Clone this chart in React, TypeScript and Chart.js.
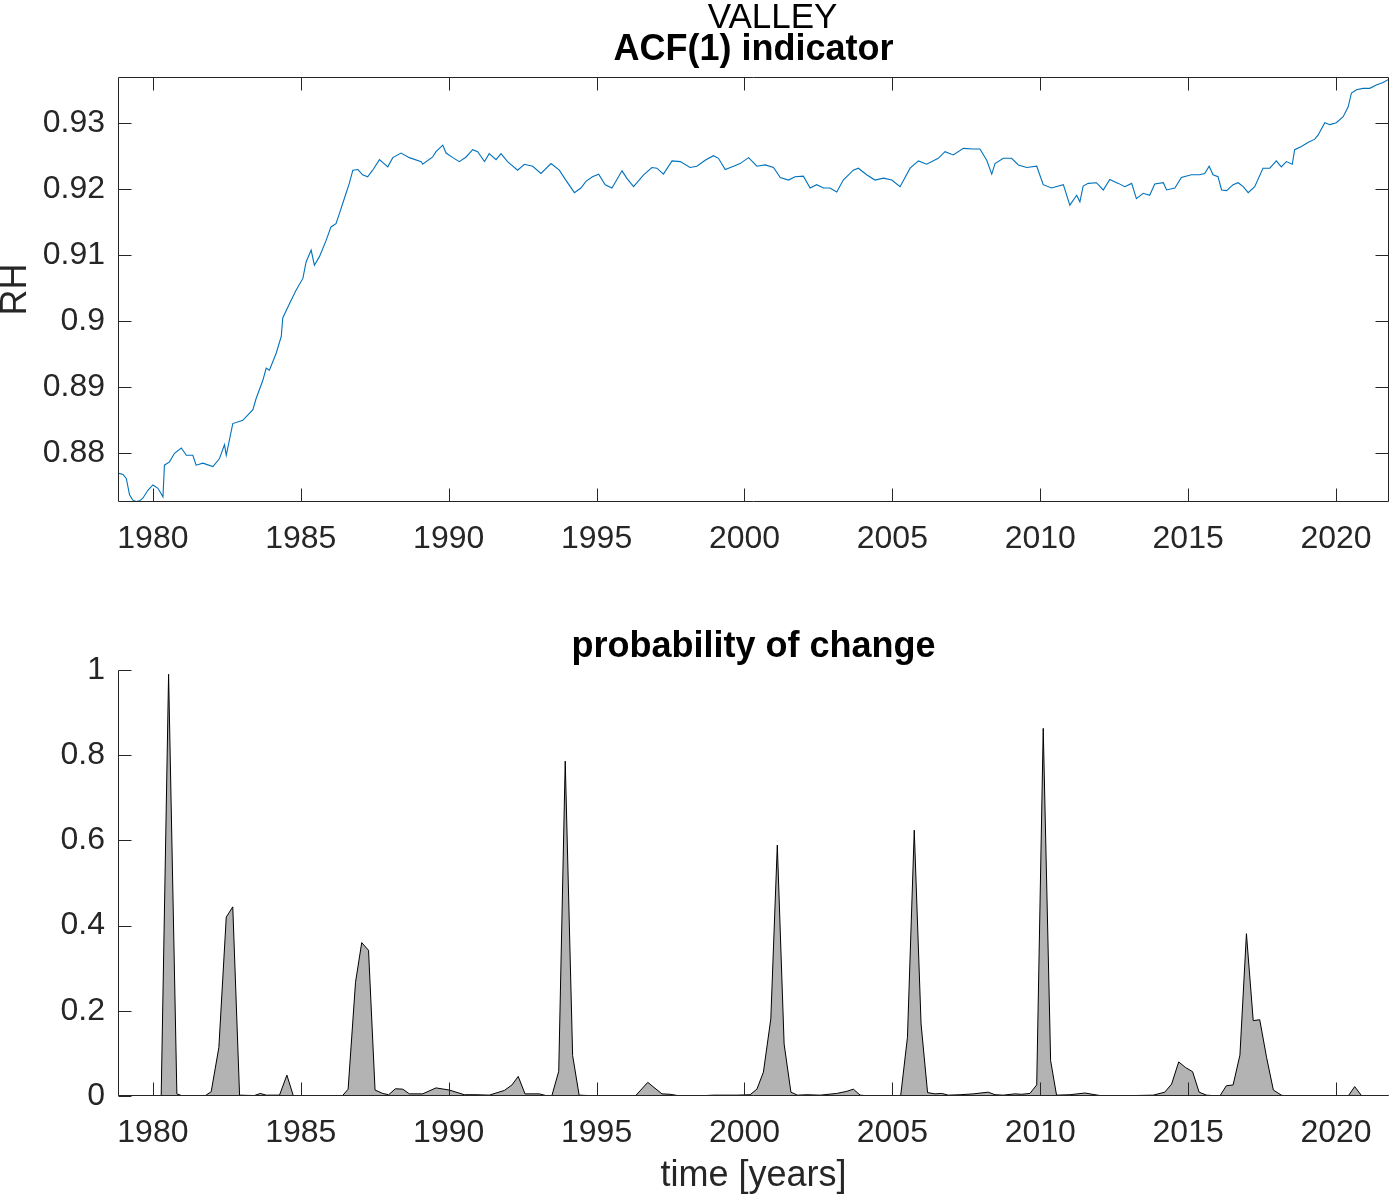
import React, { useEffect, useRef } from 'react';
import { Chart, registerables } from 'chart.js';

Chart.register(...registerables);

// ---------- text ----------
const FIGURE_TITLE = 'VALLEY';
const TOP_TITLE = 'ACF(1) indicator';
const BOTTOM_TITLE = 'probability of change';
const TOP_Y_LABEL = 'RH';
const BOTTOM_X_LABEL = 'time [years]';

// ---------- axes ----------
const X_MIN = 1978.82;
const X_MAX = 2021.79;
const X_TICKS = [1980, 1985, 1990, 1995, 2000, 2005, 2010, 2015, 2020];
const TOP_Y_MIN = 0.87262;
const TOP_Y_MAX = 0.93702;
const TOP_Y_TICKS = [0.88, 0.89, 0.9, 0.91, 0.92, 0.93];
const BOTTOM_Y_MIN = 0;
const BOTTOM_Y_MAX = 1;
const BOTTOM_Y_TICKS = [0, 0.2, 0.4, 0.6, 0.8, 1];

// ---------- data: ACF(1) indicator ----------
const acfYears = [
  1978.82, 1978.99, 1979.10, 1979.21, 1979.32, 1979.44, 1979.55, 1979.66, 1979.83, 1980.00,
  1980.17, 1980.34, 1980.39, 1980.56, 1980.73, 1980.96, 1981.13, 1981.35, 1981.46, 1981.69,
  1982.03, 1982.25, 1982.42, 1982.48, 1982.70, 1983.04, 1983.38, 1983.49, 1983.72, 1983.83,
  1983.94, 1984.17, 1984.34, 1984.39, 1984.62, 1984.84, 1985.07, 1985.18, 1985.35, 1985.46,
  1985.63, 1985.86, 1986.02, 1986.19, 1986.31, 1986.53, 1986.64, 1986.76, 1986.93, 1987.09,
  1987.26, 1987.43, 1987.66, 1987.94, 1988.11, 1988.39, 1988.67, 1989.07, 1989.12, 1989.46,
  1989.57, 1989.80, 1989.91, 1990.14, 1990.36, 1990.59, 1990.81, 1990.98, 1991.21, 1991.37,
  1991.60, 1991.77, 1991.99, 1992.33, 1992.56, 1992.84, 1993.12, 1993.46, 1993.74, 1993.96,
  1994.25, 1994.47, 1994.64, 1994.86, 1995.07, 1995.29, 1995.52, 1995.86, 1996.02, 1996.25,
  1996.59, 1996.87, 1997.04, 1997.26, 1997.55, 1997.83, 1998.16, 1998.39, 1998.67, 1998.95,
  1999.12, 1999.35, 1999.63, 1999.85, 2000.14, 2000.42, 2000.70, 2000.98, 2001.21, 2001.49,
  2001.71, 2001.99, 2002.22, 2002.44, 2002.67, 2002.89, 2003.12, 2003.34, 2003.68, 2003.85,
  2004.13, 2004.41, 2004.70, 2004.98, 2005.26, 2005.60, 2005.88, 2006.16, 2006.55, 2006.78,
  2007.06, 2007.40, 2007.74, 2007.96, 2008.19, 2008.36, 2008.47, 2008.75, 2009.03, 2009.26,
  2009.54, 2009.88, 2010.10, 2010.38, 2010.78, 2011.00, 2011.23, 2011.34, 2011.45, 2011.62,
  2011.90, 2012.13, 2012.35, 2012.64, 2012.86, 2013.09, 2013.25, 2013.48, 2013.70, 2013.87,
  2014.16, 2014.27, 2014.55, 2014.77, 2015.11, 2015.39, 2015.56, 2015.71, 2015.84, 2016.01,
  2016.13, 2016.30, 2016.52, 2016.69, 2016.86, 2017.03, 2017.25, 2017.53, 2017.76, 2017.98,
  2018.15, 2018.32, 2018.52, 2018.60, 2018.83, 2019.05, 2019.28, 2019.39, 2019.62, 2019.79,
  2020.01, 2020.24, 2020.41, 2020.52, 2020.69, 2020.91, 2021.14, 2021.36, 2021.59, 2021.79,
];
const acfValues = [
  0.8770, 0.8768, 0.8762, 0.8737, 0.8729, 0.8727, 0.8728, 0.8732, 0.8744, 0.8752,
  0.8747, 0.8734, 0.8782, 0.8787, 0.8800, 0.8808, 0.8797, 0.8797, 0.8782, 0.8785,
  0.8780, 0.8792, 0.8813, 0.8797, 0.8845, 0.8850, 0.8866, 0.8883, 0.8911, 0.8929,
  0.8926, 0.8952, 0.8977, 0.9005, 0.9027, 0.9047, 0.9065, 0.9090, 0.9108, 0.9085,
  0.9098, 0.9123, 0.9143, 0.9148, 0.9164, 0.9194, 0.9209, 0.9229, 0.9230, 0.9222,
  0.9219, 0.9229, 0.9245, 0.9234, 0.9248, 0.9255, 0.9248, 0.9242, 0.9238, 0.9249,
  0.9257, 0.9267, 0.9255, 0.9248, 0.9242, 0.9249, 0.9260, 0.9257, 0.9242, 0.9254,
  0.9245, 0.9254, 0.9242, 0.9229, 0.9238, 0.9235, 0.9224, 0.9239, 0.9229, 0.9214,
  0.9195, 0.9202, 0.9212, 0.9219, 0.9223, 0.9207, 0.9202, 0.9228, 0.9217, 0.9204,
  0.9222, 0.9233, 0.9232, 0.9223, 0.9243, 0.9242, 0.9233, 0.9235, 0.9244, 0.9251,
  0.9247, 0.9230, 0.9235, 0.9239, 0.9248, 0.9235, 0.9237, 0.9233, 0.9218, 0.9214,
  0.9219, 0.9220, 0.9202, 0.9207, 0.9202, 0.9202, 0.9196, 0.9214, 0.9229, 0.9232,
  0.9222, 0.9214, 0.9217, 0.9214, 0.9204, 0.9232, 0.9243, 0.9238, 0.9247, 0.9257,
  0.9252, 0.9262, 0.9261, 0.9261, 0.9244, 0.9223, 0.9239, 0.9247, 0.9247, 0.9237,
  0.9233, 0.9235, 0.9207, 0.9202, 0.9207, 0.9176, 0.9191, 0.9181, 0.9205, 0.9209,
  0.9210, 0.9199, 0.9215, 0.9209, 0.9204, 0.9209, 0.9186, 0.9194, 0.9191, 0.9208,
  0.9210, 0.9199, 0.9202, 0.9218, 0.9222, 0.9222, 0.9224, 0.9235, 0.9222, 0.9219,
  0.9199, 0.9198, 0.9207, 0.9210, 0.9204, 0.9195, 0.9204, 0.9232, 0.9232, 0.9243,
  0.9234, 0.9242, 0.9238, 0.9260, 0.9265, 0.9271, 0.9276, 0.9282, 0.9301, 0.9298,
  0.9301, 0.9310, 0.9325, 0.9346, 0.9351, 0.9353, 0.9353, 0.9358, 0.9362, 0.9367,
];

// ---------- data: probability of change ----------
const probYears = [
  1978.82, 1980.28, 1980.53, 1980.81, 1981.01, 1981.75, 1981.97, 1982.23, 1982.48, 1982.70,
  1982.93, 1983.43, 1983.63, 1983.83, 1984.28, 1984.53, 1984.75, 1986.40, 1986.60, 1986.85,
  1987.06, 1987.29, 1987.51, 1987.77, 1987.97, 1988.20, 1988.45, 1988.67, 1989.12, 1989.57,
  1990.02, 1990.53, 1990.92, 1991.37, 1991.88, 1992.14, 1992.35, 1992.58, 1993.06, 1993.29,
  1993.49, 1993.72, 1993.94, 1994.19, 1994.41, 1995.09, 1996.31, 1996.73, 1997.21, 1997.49,
  1997.83, 1998.39, 1998.95, 1999.74, 2000.19, 2000.42, 2000.64, 2000.89, 2001.11, 2001.34,
  2001.57, 2001.79, 2002.11, 2002.56, 2003.12, 2003.46, 2003.68, 2003.91, 2004.25, 2005.28,
  2005.51, 2005.74, 2005.97, 2006.19, 2006.44, 2006.67, 2006.89, 2007.29, 2007.74, 2008.24,
  2008.47, 2008.75, 2009.14, 2009.37, 2009.65, 2009.88, 2010.10, 2010.35, 2010.55, 2011.00,
  2011.51, 2012.02, 2013.14, 2013.82, 2014.21, 2014.44, 2014.68, 2014.91, 2015.15, 2015.37,
  2015.62, 2016.07, 2016.29, 2016.52, 2016.75, 2016.97, 2017.20, 2017.42, 2017.65, 2017.88,
  2018.15, 2018.32, 2020.41, 2020.63, 2020.86, 2021.79,
];
const probValues = [
  0, 0, 0.990, 0.005, 0, 0, 0.010, 0.114, 0.420, 0.444,
  0.002, 0.001, 0.006, 0.002, 0.002, 0.049, 0, 0, 0.016, 0.267,
  0.360, 0.342, 0.014, 0.006, 0.003, 0.017, 0.016, 0.005, 0.005, 0.019,
  0.014, 0.003, 0.003, 0.002, 0.013, 0.026, 0.046, 0.005, 0.005, 0.001,
  0.001, 0.058, 0.786, 0.095, 0.002, 0, 0, 0.032, 0.005, 0.004,
  0, 0, 0.002, 0.002, 0.003, 0.016, 0.056, 0.181, 0.589, 0.122,
  0.009, 0.002, 0.003, 0.002, 0.006, 0.011, 0.016, 0.002, 0, 0,
  0.138, 0.624, 0.169, 0.008, 0.005, 0.006, 0.002, 0.003, 0.005, 0.009,
  0.003, 0.002, 0.005, 0.004, 0.006, 0.026, 0.863, 0.083, 0.002, 0.003,
  0.007, 0.001, 0.001, 0.002, 0.009, 0.028, 0.080, 0.067, 0.057, 0.009,
  0.002, 0, 0.024, 0.026, 0.096, 0.381, 0.177, 0.179, 0.091, 0.014,
  0.002, 0, 0, 0.022, 0.001, 0,
];

// ---------- style ----------
const FONT = '"Liberation Sans", Arial, Helvetica, sans-serif';
const AXIS_COLOR = '#262626';
const TICK_FONT_SIZE = 32;
const LABEL_FONT_SIZE = 36;
const TITLE_FONT_SIZE = 36;
const FIG_TITLE_FONT_SIZE = 35;
const TICK_LEN = 13;

const fmt = (v: number) => String(Number(v.toFixed(3)));

type TitleItem = { text: string; bold: boolean; size: number; dx: number; baseline: number };

function titlePlugin(items: TitleItem[]) {
  return {
    id: 'matlabTitles',
    afterDraw(chart: any) {
      const { ctx, chartArea } = chart;
      const cx = (chartArea.left + chartArea.right) / 2;
      ctx.save();
      ctx.fillStyle = '#000000';
      ctx.textAlign = 'center';
      ctx.textBaseline = 'alphabetic';
      items.forEach((it) => {
        ctx.font = `${it.bold ? 'bold ' : ''}${it.size}px ${FONT}`;
        ctx.fillText(it.text, cx + it.dx, it.baseline);
      });
      ctx.restore();
    },
  };
}

function axesPlugin(boxed: boolean) {
  return {
    id: 'matlabAxes',
    afterDraw(chart: any) {
      const { ctx, chartArea: a, scales } = chart;
      const xs = scales.x;
      const ys = scales.y;
      const l = Math.round(a.left) + 0.5;
      const r = Math.round(a.right) - 0.5;
      const t = Math.round(a.top) + 0.5;
      const b = Math.round(a.bottom) - 0.5;
      ctx.save();
      ctx.strokeStyle = AXIS_COLOR;
      ctx.lineWidth = 1;
      ctx.beginPath();
      if (boxed) {
        ctx.rect(l, t, r - l, b - t);
      } else {
        ctx.moveTo(l, t);
        ctx.lineTo(l, b);
        ctx.lineTo(r, b);
      }
      xs.ticks.forEach((tk: any) => {
        const px = Math.round(xs.getPixelForValue(tk.value)) + 0.5;
        ctx.moveTo(px, b);
        ctx.lineTo(px, b - TICK_LEN);
        if (boxed) {
          ctx.moveTo(px, t);
          ctx.lineTo(px, t + TICK_LEN);
        }
      });
      ys.ticks.forEach((tk: any) => {
        const py = Math.round(ys.getPixelForValue(tk.value)) + 0.5;
        ctx.moveTo(l, py);
        ctx.lineTo(l + TICK_LEN, py);
        if (boxed) {
          ctx.moveTo(r, py);
          ctx.lineTo(r - TICK_LEN, py);
        }
      });
      ctx.stroke();
      ctx.restore();
    },
  };
}

const tickFont = { family: FONT, size: TICK_FONT_SIZE };

function xScale(height: number, withTitle: boolean) {
  return {
    type: 'linear' as const,
    min: X_MIN,
    max: X_MAX,
    grid: { display: false, drawTicks: false },
    border: { display: false },
    afterBuildTicks: (s: any) => {
      s.ticks = X_TICKS.map((v) => ({ value: v }));
    },
    afterFit: (s: any) => {
      s.height = height;
    },
    ticks: {
      autoSkip: false,
      maxRotation: 0,
      minRotation: 0,
      padding: 18,
      color: AXIS_COLOR,
      font: tickFont,
      callback: (v: any) => String(v),
    },
    title: withTitle
      ? {
          display: true,
          text: BOTTOM_X_LABEL,
          color: AXIS_COLOR,
          font: { family: FONT, size: LABEL_FONT_SIZE, lineHeight: 1.1 },
          padding: { top: 0, bottom: 0 },
        }
      : { display: false },
  };
}

function yScale(min: number, max: number, ticks: number[], withTitle: boolean) {
  return {
    type: 'linear' as const,
    min,
    max,
    grid: { display: false, drawTicks: false },
    border: { display: false },
    afterBuildTicks: (s: any) => {
      s.ticks = ticks.map((v) => ({ value: v }));
    },
    afterFit: (s: any) => {
      s.width = 118;
    },
    ticks: {
      autoSkip: false,
      padding: 13,
      color: AXIS_COLOR,
      font: tickFont,
      callback: (v: any) => fmt(Number(v)),
    },
    title: withTitle
      ? {
          display: true,
          text: TOP_Y_LABEL,
          color: AXIS_COLOR,
          font: { family: FONT, size: LABEL_FONT_SIZE, lineHeight: 0.9 },
          padding: { top: 0, bottom: 0 },
        }
      : { display: false },
  };
}

export default function App() {
  const topRef = useRef<HTMLCanvasElement>(null);
  const botRef = useRef<HTMLCanvasElement>(null);

  useEffect(() => {
    const topChart = new Chart(topRef.current as HTMLCanvasElement, {
      type: 'line',
      data: {
        datasets: [
          {
            data: acfYears.map((x, i) => ({ x, y: acfValues[i] })),
            borderColor: '#0072BD',
            borderWidth: 1.1,
            pointRadius: 0,
            tension: 0,
            fill: false,
          },
        ],
      },
      options: {
        responsive: false,
        animation: false,
        layout: { padding: { top: 77, right: 2, left: 0, bottom: 0 } },
        plugins: { legend: { display: false }, tooltip: { enabled: false }, title: { display: false } },
        scales: {
          x: xScale(78, false),
          y: yScale(TOP_Y_MIN, TOP_Y_MAX, TOP_Y_TICKS, true),
        },
      } as any,
      plugins: [
        axesPlugin(true),
        titlePlugin([
          { text: FIGURE_TITLE, bold: false, size: FIG_TITLE_FONT_SIZE, dx: 19, baseline: 28 },
          { text: TOP_TITLE, bold: true, size: TITLE_FONT_SIZE, dx: 0, baseline: 60 },
        ]),
      ],
    });

    const botChart = new Chart(botRef.current as HTMLCanvasElement, {
      type: 'line',
      data: {
        datasets: [
          {
            data: probYears.map((x, i) => ({ x, y: probValues[i] })),
            borderColor: '#000000',
            backgroundColor: '#B3B3B3',
            borderWidth: 1,
            pointRadius: 0,
            tension: 0,
            fill: 'origin',
          },
        ],
      },
      options: {
        responsive: false,
        animation: false,
        layout: { padding: { top: 90, right: 2, left: 0, bottom: 0 } },
        plugins: { legend: { display: false }, tooltip: { enabled: false }, title: { display: false } },
        scales: {
          x: xScale(100, true),
          y: yScale(BOTTOM_Y_MIN, BOTTOM_Y_MAX, BOTTOM_Y_TICKS, false),
        },
      } as any,
      plugins: [
        axesPlugin(false),
        titlePlugin([{ text: BOTTOM_TITLE, bold: true, size: TITLE_FONT_SIZE, dx: 0, baseline: 77 }]),
      ],
    });

    return () => {
      topChart.destroy();
      botChart.destroy();
    };
  }, []);

  return (
    <div style={{ position: 'absolute', left: 0, top: 0, width: 1391, height: 1196, background: '#ffffff' }}>
      <canvas ref={topRef} width={1391} height={580} style={{ position: 'absolute', left: 0, top: 0, width: 1391, height: 580 }} />
      <canvas ref={botRef} width={1391} height={616} style={{ position: 'absolute', left: 0, top: 580, width: 1391, height: 616 }} />
    </div>
  );
}
